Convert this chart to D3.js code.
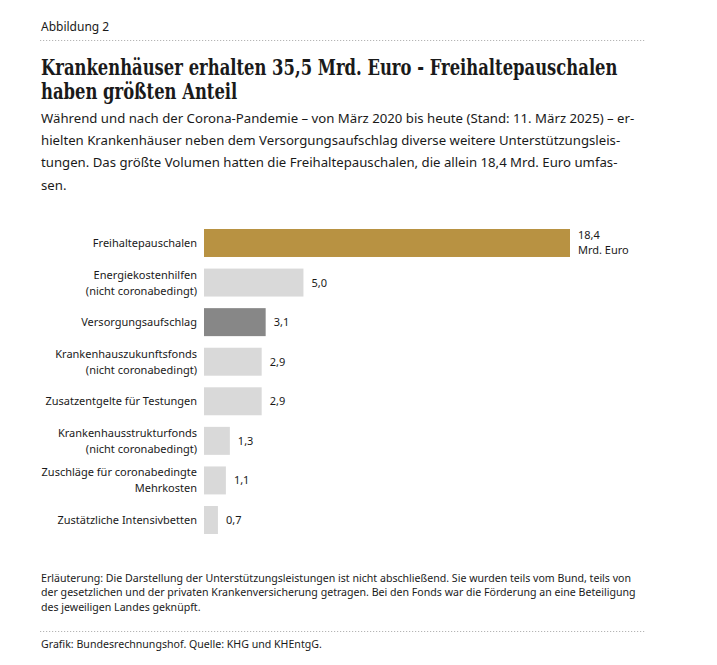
<!DOCTYPE html>
<html><head><meta charset="utf-8">
<script src="https://cdn.jsdelivr.net/npm/d3@7"></script>
<style>
html,body{margin:0;padding:0;background:#fff;}
svg{display:block;}
</style></head>
<body>
<script>
const figureLabel = "Abbildung 2";
const titleLines = ["Krankenhäuser erhalten 35,5 Mrd. Euro - Freihaltepauschalen", "haben größten Anteil"];
const subtitleLines = [
  "Während und nach der Corona-Pandemie – von März 2020 bis heute (Stand: 11. März 2025) – er-",
  "hielten Krankenhäuser neben dem Versorgungsaufschlag diverse weitere Unterstützungsleis-",
  "tungen. Das größte Volumen hatten die Freihaltepauschalen, die allein 18,4 Mrd. Euro umfas-",
  "sen."
];
const categories = [
  "Freihaltepauschalen",
  "Energiekostenhilfen (nicht coronabedingt)",
  "Versorgungsaufschlag",
  "Krankenhauszukunftsfonds (nicht coronabedingt)",
  "Zusatzentgelte für Testungen",
  "Krankenhausstrukturfonds (nicht coronabedingt)",
  "Zuschläge für coronabedingte Mehrkosten",
  "Zustätzliche Intensivbetten"
];
const categoryLines = [
  ["Freihaltepauschalen"],
  ["Energiekostenhilfen", "(nicht coronabedingt)"],
  ["Versorgungsaufschlag"],
  ["Krankenhauszukunftsfonds", "(nicht coronabedingt)"],
  ["Zusatzentgelte für Testungen"],
  ["Krankenhausstrukturfonds", "(nicht coronabedingt)"],
  ["Zuschläge für coronabedingte", "Mehrkosten"],
  ["Zustätzliche Intensivbetten"]
];
const values = [18.4, 5.0, 3.1, 2.9, 2.9, 1.3, 1.1, 0.7];
const barGroups = ["highlight", "other", "dark", "other", "other", "other", "other", "other"];
const unitLabel = "Mrd. Euro";
const noteLines = [
  "Erläuterung: Die Darstellung der Unterstützungsleistungen ist nicht abschließend. Sie wurden teils vom Bund, teils von",
  "der gesetzlichen und der privaten Krankenversicherung getragen. Bei den Fonds war die Förderung an eine Beteiligung",
  "des jeweiligen Landes geknüpft."
];
const sourceLine = "Grafik: Bundesrechnungshof. Quelle: KHG und KHEntgG.";

const W = 717, H = 665;
const sans = "'Noto Sans', 'Open Sans', sans-serif";
const serif = "'DejaVu Serif', serif";
const textColor = "#1a1a1a";

const svg = d3.select("body").append("svg").attr("width", W).attr("height", H);

// header
svg.append("text").attr("x", 41).attr("y", 31).attr("font-family", sans).attr("font-size", 12)
  .attr("fill", textColor).text(figureLabel);
svg.append("line").attr("x1", 40).attr("x2", 646).attr("y1", 40.5).attr("y2", 40.5)
  .attr("stroke", "#b5b5b5").attr("stroke-width", 1).attr("stroke-dasharray", "1.2,1.8");

// title: horizontally condensed slab serif, same compression for both lines
const titleG = svg.append("g");
const titleTexts = titleLines.map((t, i) => titleG.append("text").attr("x", 0).attr("y", 75 + i * 24)
  .attr("font-family", serif).attr("font-weight", "bold").attr("font-size", 22)
  .attr("fill", textColor).text(t));
const natural = titleTexts[0].node().getComputedTextLength();
const sx = 577 / natural;
titleG.attr("transform", `translate(41,0) scale(${sx},1)`);

subtitleLines.forEach((t, i) => {
  svg.append("text").attr("x", 41).attr("y", 123 + i * 22.2)
    .attr("font-family", sans).attr("font-size", 13.2).attr("fill", textColor).text(t);
});

// chart
const x = d3.scaleLinear().domain([0, 18.4]).range([204, 570]);
const y = d3.scaleBand().domain(categories).range([229, 534]).paddingInner(0.293).paddingOuter(0);
const color = d3.scaleOrdinal().domain(["highlight", "dark", "other"]).range(["#b89242", "#878787", "#d9d9d9"]);
const fmt = d3.formatLocale({decimal: ",", thousands: ".", grouping: [3], currency: ["", " €"]}).format(".1f");

const rows = svg.append("g").selectAll("g").data(categories).join("g");
rows.append("rect")
  .attr("x", x(0)).attr("y", d => y(d))
  .attr("width", (d, i) => x(values[i]) - x(0))
  .attr("height", y.bandwidth())
  .attr("fill", (d, i) => color(barGroups[i]));

rows.each(function(d, i) {
  const g = d3.select(this);
  const lines = categoryLines[i];
  const cy = y(d) + y.bandwidth() / 2;
  const lh = 16;
  lines.forEach((ln, j) => {
    g.append("text").attr("x", 197).attr("text-anchor", "end")
      .attr("y", cy + (j - (lines.length - 1) / 2) * lh + 4)
      .attr("font-family", sans).attr("font-size", 11).attr("fill", textColor).text(ln);
  });
  const vx = x(values[i]) + 8;
  if (i === 0) {
    g.append("text").attr("x", vx).attr("y", cy - 4).attr("font-family", sans).attr("font-size", 11)
      .attr("fill", textColor).text(fmt(values[i]));
    g.append("text").attr("x", vx).attr("y", cy + 11).attr("font-family", sans).attr("font-size", 11)
      .attr("fill", textColor).text(unitLabel);
  } else {
    g.append("text").attr("x", vx).attr("y", cy + 4).attr("font-family", sans).attr("font-size", 11)
      .attr("fill", textColor).text(fmt(values[i]));
  }
});

// notes
noteLines.forEach((t, i) => {
  svg.append("text").attr("x", 41).attr("y", 582 + i * 14.3)
    .attr("font-family", sans).attr("font-size", 10.6).attr("fill", textColor).text(t);
});
svg.append("line").attr("x1", 40).attr("x2", 646).attr("y1", 631.5).attr("y2", 631.5)
  .attr("stroke", "#b5b5b5").attr("stroke-width", 1).attr("stroke-dasharray", "1.2,1.8");
svg.append("text").attr("x", 41).attr("y", 648).attr("font-family", sans).attr("font-size", 10.6)
  .attr("fill", textColor).text(sourceLine);
</script>
</body></html>
